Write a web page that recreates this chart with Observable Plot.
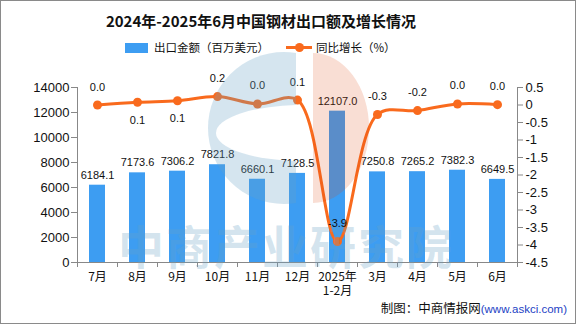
<!DOCTYPE html>
<html><head><meta charset="utf-8">
<script src="https://cdn.jsdelivr.net/npm/d3@7"></script>
<script src="https://cdn.jsdelivr.net/npm/@observablehq/plot@0.6"></script>
<style>
body{margin:0;background:#fff;}
#wrap{position:relative;width:576px;height:324px;overflow:hidden;font-family:"Noto Sans CJK SC","Noto Sans",sans-serif;background:#fff;}
#border{position:absolute;left:0;top:0;width:576px;height:324px;box-sizing:border-box;border:1px solid #8a8a8a;z-index:10;pointer-events:none;}
#title{position:absolute;left:0;top:11px;width:522px;text-align:center;font-size:15px;font-weight:bold;line-height:20px;color:#111;}
.lg{position:absolute;font-size:11.5px;line-height:14px;color:#111;white-space:nowrap;}
#chart{position:absolute;left:0;top:60px;z-index:1;}
#ov{position:absolute;left:0;top:0;z-index:2;pointer-events:none;}
#footer{position:absolute;right:9px;top:300px;font-size:12.5px;line-height:16px;color:#111;white-space:nowrap;}
#footer span{font-family:"Liberation Sans",Arial,sans-serif;font-size:11.5px;color:#1d3fc4;}
</style></head><body>
<div id="wrap">
  <div id="title">2024年-2025年6月中国钢材出口额及增长情况</div>
  <div style="position:absolute;left:125px;top:43px;width:23px;height:10px;background:#3d9df2;"></div>
  <div class="lg" style="left:154px;top:40px;">出口金额（百万美元）</div>
  <div style="position:absolute;left:286px;top:46px;width:26px;height:3px;background:#f96a1d;"></div>
  <div style="position:absolute;left:295px;top:43px;width:9px;height:9px;border-radius:50%;background:#f96a1d;"></div>
  <div class="lg" style="left:316px;top:40px;">同比增长（%）</div>
  <div id="chart"></div>
  <svg id="ov" width="576" height="324">
    <defs><clipPath id="cl"><rect x="0" y="0" width="296" height="324"/></clipPath>
    <mask id="mk"><rect x="0" y="0" width="576" height="324" fill="white"/><ellipse cx="302" cy="133" rx="86" ry="28" fill="black"/></mask></defs>
    <g clip-path="url(#cl)"><circle cx="284" cy="128" r="76" fill="rgb(105,162,198)" fill-opacity="0.28" mask="url(#mk)"/></g>
    <path d="M313,53 A56,75 0 0 1 313,203 Z" fill="rgb(222,74,14)" fill-opacity="0.18"/>
    <text x="118" y="264" font-size="46" letter-spacing="2" font-weight="bold" font-family="Noto Sans CJK SC" fill="rgb(105,162,198)" fill-opacity="0.28">中商产业研究院</text>
  </svg>
  <div id="footer">制图：中商情报网<span>(www.askci.com)</span></div>
  <div id="border"></div>
</div>
<script>
// ---- data ----
const months = ["7月","8月","9月","10月","11月","12月","2025年\n1-2月","3月","4月","5月","6月"];
const exportValue = [6184.1,7173.6,7306.2,7821.8,6660.1,7128.5,12107.0,7250.8,7265.2,7382.3,6649.5];
const growth = [0.0,0.08,0.12,0.24,0.03,0.14,-3.9,-0.27,-0.16,0.03,0.01];
const leftTicks = [0,2000,4000,6000,8000,10000,12000,14000];
const rightTicks = [0.5,0,-0.5,-1,-1.5,-2,-2.5,-3,-3.5,-4,-4.5];
const labelBelow = ["8月","9月"];

const n = months.length;
const lMin = 0, lMax = 14000, rMin = -4.5, rMax = 0.5;
const toLeft = g => (g - rMin) / (rMax - rMin) * (lMax - lMin) + lMin;
const fromLeft = v => Math.round(((v - lMin) / (lMax - lMin) * (rMax - rMin) + rMin) * 10) / 10;
const rows = months.map((m, i) => ({i, m, v: exportValue[i], g: growth[i]}));
const BLUE = "#3d9df2", ORANGE = "#f96a1d";
const numFont = "Liberation Sans, Arial, sans-serif";

const chart = Plot.plot({
  width: 576, height: 242,
  marginTop: 27, marginBottom: 40, marginLeft: 77, marginRight: 59,
  style: {background: "transparent", fontFamily: "Noto Sans CJK SC, sans-serif", fontSize: "12px", color: "#111"},
  x: {type: "linear", domain: [-0.5, n - 0.5]},
  y: {domain: [lMin, lMax]},
  marks: [
    Plot.rectY(rows, {x1: d => d.i - 0.2, x2: d => d.i + 0.2, y1: 0, y2: "v", fill: BLUE}),
    Plot.ruleY([0], {stroke: "#888"}),
    Plot.ruleX([-0.5], {stroke: "#888"}),
    Plot.ruleX([n - 0.5], {stroke: "#888"}),
    Plot.axisY(leftTicks, {anchor: "left", tickSize: 6, tickPadding: 2, fontSize: 13, stroke: "#888", fill: "#111", fontFamily: numFont, tickFormat: d => String(d), label: null}),
    Plot.axisY(rightTicks.map(toLeft), {anchor: "right", tickSize: 5, tickPadding: 3, fontSize: 13, stroke: "#888", fill: "#111", fontFamily: numFont, tickFormat: d => String(fromLeft(d)), label: null}),
    Plot.axisX(d3.range(n + 1).map(k => k - 0.5), {tickSize: 5, stroke: "#888", tickFormat: () => "", label: null}),
    Plot.axisX(d3.range(n), {tickSize: 0, tickPadding: 9, fontSize: 12, fill: "#111", lineHeight: 1.15, tickFormat: k => months[k], label: null}),
    Plot.text(rows, {x: "i", y: "v", text: d => d.v.toFixed(1), dy: -10, fontSize: 11, fontFamily: numFont, fill: "#111"}),
    Plot.line(rows, {x: "i", y: d => toLeft(d.g), curve: "catmull-rom", stroke: ORANGE, strokeWidth: 3}),
    Plot.dot(rows, {x: "i", y: d => toLeft(d.g), r: 4.5, fill: ORANGE}),
    Plot.text(rows.filter(d => !labelBelow.includes(d.m)), {x: "i", y: d => toLeft(d.g), text: d => d.g.toFixed(1), dy: -18, fontSize: 11, fontFamily: numFont, fill: "#111"}),
    Plot.text(rows.filter(d => labelBelow.includes(d.m)), {x: "i", y: d => toLeft(d.g), text: d => d.g.toFixed(1), dy: 18, fontSize: 11, fontFamily: numFont, fill: "#111"})
  ]
});
document.getElementById("chart").appendChild(chart);
</script>
</body></html>
